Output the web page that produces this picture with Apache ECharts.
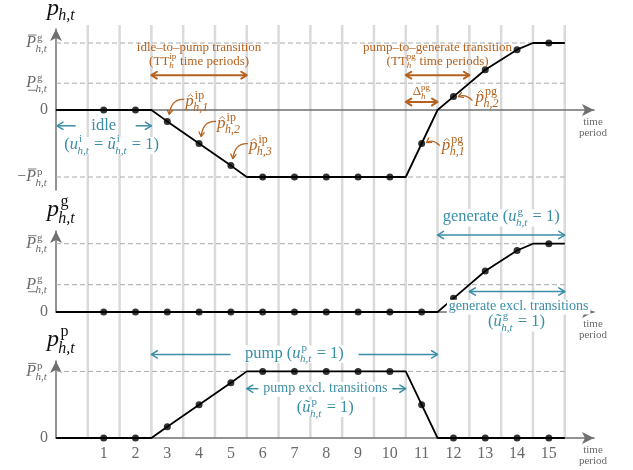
<!DOCTYPE html>
<html>
<head>
<meta charset="utf-8">
<script src="https://cdn.jsdelivr.net/npm/echarts@6/dist/echarts.min.js"></script>
<style>
  html, body { margin: 0; background: #fff; }
  #main { width: 633px; height: 470px; }
</style>
</head>
<body>
<div id="main"></div>
<script>
// time periods with a dot, and the period boundaries (grey vertical lines)
var periods = [1, 2, 3, 4, 5, 6, 7, 8, 9, 10, 11, 12, 13, 14, 15];
var boundaries = [0.5, 1.5, 2.5, 3.5, 4.5, 5.5, 6.5, 7.5, 8.5, 9.5, 10.5, 11.5, 12.5, 13.5, 14.5, 15.5];

// net power p_{h,t}: values at each period, plus the corners between periods
var netPower = [0, 0, -0.17, -0.5, -0.83, -1, -1, -1, -1, -1, -0.5, 0.2, 0.6, 0.9, 1];
var netCorners = [[-0.5, 0], [2.5, 0], [5.5, -1], [10.5, -1], [11.5, 0], [14.5, 1], [15.5, 1]];

// generating power p^g_{h,t}
var genPower = [0, 0, 0, 0, 0, 0, 0, 0, 0, 0, 0, 0.2, 0.6, 0.9, 1];
var genCorners = [[-0.5, 0], [11.5, 0], [14.5, 1], [15.5, 1]];

// pumping power p^p_{h,t}
var pumpPower = [0, 0, 0.17, 0.5, 0.83, 1, 1, 1, 1, 1, 0.5, 0, 0, 0, 0];
var pumpCorners = [[-0.5, 0], [2.5, 0], [5.5, 1], [10.5, 1], [11.5, 0], [15.5, 0]];

// limits (dashed lines)
var genMax = 1;
var genMin = 0.4;
var pumpMax = 1;

var ORANGE = '#b5621e';
var TEAL = '#3a8ea6';
var GREY = '#6a6a6a';
var SERIF = 'Liberation Serif';

function path(values, corners) {
  var pts = periods.map(function (t, i) { return [t, values[i]]; }).concat(corners);
  pts.sort(function (a, b) { return a[0] - b[0]; });
  return pts;
}
function dots(values) {
  return periods.map(function (t, i) { return [t, values[i]]; });
}

var chart = echarts.init(document.getElementById('main'));

var grids = [
  { left: 56, top: 29, width: 538, height: 161 },
  { left: 56, top: 231, width: 538, height: 81 },
  { left: 56, top: 361, width: 538, height: 77 },
  { left: 56, top: 25, width: 538, height: 413 }
];
var yRanges = [[-1.194, 1.209], [0, 1.186], [0, 1.156], [0, 1]];

var xAxes = grids.map(function (g, i) {
  return {
    gridIndex: i, type: 'value', min: -0.5, max: 16.42,
    splitLine: { show: false }, axisTick: { show: false },
    axisLine: {
      show: i < 3, onZero: true, symbol: ['none', 'arrow'], symbolSize: [9, 12],
      lineStyle: { color: '#707070', width: 1.5 }
    },
    axisLabel: {
      show: i === 2, customValues: periods, margin: 8,
      color: GREY, fontSize: 16, fontFamily: SERIF
    }
  };
});
var yAxes = grids.map(function (g, i) {
  return {
    gridIndex: i, type: 'value', min: yRanges[i][0], max: yRanges[i][1],
    splitLine: { show: false }, axisTick: { show: false }, axisLabel: { show: false },
    axisLine: {
      show: i < 3, onZero: false, symbol: ['none', 'arrow'], symbolSize: [9, 12],
      lineStyle: { color: '#707070', width: 1.5 }
    }
  };
});

function panel(i, values, corners, levels) {
  // dashed limit lines first, so they stay under the power curve
  var out = levels.map(function (v) {
    return {
      type: 'line', xAxisIndex: i, yAxisIndex: i, z: 1, silent: true, showSymbol: false,
      data: [[-0.5, v], [15.5, v]],
      lineStyle: { color: '#aaaaaa', width: 1, type: [5, 3] }
    };
  });
  return out.concat([
    {
      type: 'line', xAxisIndex: i, yAxisIndex: i, data: path(values, corners),
      showSymbol: false, z: 4, lineStyle: { color: '#000', width: 1.8 }
    },
    {
      type: 'scatter', xAxisIndex: i, yAxisIndex: i, data: dots(values),
      symbolSize: 7, z: 5, itemStyle: { color: '#000' }
    }
  ]);
}

var series = [{
  type: 'custom', xAxisIndex: 3, yAxisIndex: 3, z: 0, silent: true,
  data: boundaries.map(function (t) { return [t]; }),
  renderItem: function (params, api) {
    var top = api.coord([api.value(0), 1]);
    var bottom = api.coord([api.value(0), 0]);
    return {
      type: 'line',
      shape: { x1: top[0], y1: top[1], x2: bottom[0], y2: bottom[1] },
      style: { stroke: '#dadada', lineWidth: 2.5 }
    };
  }
}]
  .concat(panel(0, netPower, netCorners, [genMax, genMin, -pumpMax]))
  .concat(panel(1, genPower, genCorners, [genMax, genMin]))
  .concat(panel(2, pumpPower, pumpCorners, [pumpMax]));

chart.setOption({
  animation: false,
  grid: grids,
  xAxis: xAxes,
  yAxis: yAxes,
  series: series
});

// ---- little math typesetter for the annotations ----
var ctx2d = document.createElement('canvas').getContext('2d');
function measure(s, size, it) {
  ctx2d.font = (it ? 'italic ' : '') + size + 'px "' + SERIF + '"';
  return ctx2d.measureText(s).width;
}
function txt(s, x, y, size, it, color) {
  return {
    type: 'text', x: x, y: y, z: 101,
    style: {
      text: s, fontSize: size, fontFamily: SERIF, fontStyle: it ? 'italic' : 'normal',
      fill: color, verticalAlign: 'middle', align: 'left'
    }
  };
}
function seg(x1, y1, x2, y2, color, w) {
  return { type: 'line', z: 101, shape: { x1: x1, y1: y1, x2: x2, y2: y2 }, style: { stroke: color, lineWidth: w || 1 } };
}

function math(tokens, size, color, x, y, align, bg) {
  var kids = [], cx = 0, ss = Math.round(size * 0.68);
  tokens.forEach(function (tk) {
    if (typeof tk === 'string') tk = { b: tk };
    var w = measure(tk.b, size, tk.it);
    kids.push(txt(tk.b, cx, 0, size, tk.it, color));
    if (tk.bar) {
      var by = tk.bar === 'over' ? -0.5 * size : 0.44 * size;
      kids.push(seg(cx + w * 0.18, by, cx + w * 1.05, by, color, Math.max(0.8, size / 18)));
    }
    if (tk.hat) {
      var hx = cx + w * 0.6;
      kids.push({
        type: 'polyline', z: 101,
        shape: { points: [[hx - size * 0.15, -0.27 * size], [hx, -0.42 * size], [hx + size * 0.15, -0.27 * size]] },
        style: { stroke: color, fill: null, lineWidth: 0.9 }
      });
    }
    var sw = 0, kern = tk.it ? size * 0.06 : 0;
    if (tk.sup) {
      sw = measure(tk.sup, ss, tk.supIt);
      kids.push(txt(tk.sup, cx + w + kern, -0.33 * size, ss, tk.supIt, color));
    }
    if (tk.sub) {
      var subIt = tk.subIt !== false;
      sw = Math.max(sw, measure(tk.sub, ss, subIt));
      kids.push(txt(tk.sub, cx + w - kern * 0.5, (tk.sup ? 0.36 : 0.3) * size, ss, subIt, color));
    }
    cx += w + (sw ? sw + size * 0.04 : 0);
  });
  var off = align === 'center' ? -cx / 2 : (align === 'right' ? -cx : 0);
  var children = [{ type: 'group', x: off, children: kids }];
  if (bg) {
    children.unshift({
      type: 'rect', z: 100,
      shape: { x: off - 2, y: -0.48 * size, width: cx + 4, height: 1.05 * size },
      style: { fill: '#fff' }
    });
  }
  return { type: 'group', x: x, y: y, children: children };
}

function head(x, y, ang, color, len, w) {
  var a1 = ang + Math.PI - 0.55, a2 = ang + Math.PI + 0.55;
  return {
    type: 'polyline', z: 102,
    shape: { points: [[x + len * Math.cos(a1), y + len * Math.sin(a1)], [x, y], [x + len * Math.cos(a2), y + len * Math.sin(a2)]] },
    style: { stroke: color, fill: null, lineWidth: w, lineCap: 'round', lineJoin: 'round' }
  };
}
function hArrow(x1, x2, y, color, w, len, both) {
  var out = [seg(x1, y, x2, y, color, w), head(x2, y, x2 > x1 ? 0 : Math.PI, color, len, w)];
  if (both) out.push(head(x1, y, x2 > x1 ? Math.PI : 0, color, len, w));
  out.forEach(function (e) { e.z = 102; });
  return out;
}
function curved(x1, y1, cpx, cpy, x2, y2, color) {
  return [
    { type: 'bezierCurve', z: 102, shape: { x1: x1, y1: y1, cpx1: cpx, cpy1: cpy, x2: x2, y2: y2 }, style: { stroke: color, fill: null, lineWidth: 1.3 } },
    head(x2, y2, Math.atan2(y2 - cpy, x2 - cpx), color, 5, 1.3)
  ];
}

function P(g, t, v) { return chart.convertToPixel({ gridIndex: g }, [t, v]); }

var el = [];
function add(items) { el = el.concat(items); }

var axisX = P(0, -0.5, 0)[0];
var lblX = axisX - 8;

// axis names
var top0 = P(0, -0.5, yRanges[0][1]), top1 = P(1, -0.5, yRanges[1][1]), top2 = P(2, -0.5, yRanges[2][1]);
add(math([{ b: 'p', it: true, sub: 'h,t' }], 24, '#111', axisX - 9, top0[1] - 20, 'left'));
add(math([{ b: 'p', it: true, sup: 'g', sub: 'h,t' }], 24, '#111', axisX - 9, top1[1] - 21, 'left'));
add(math([{ b: 'p', it: true, sup: 'p', sub: 'h,t' }], 24, '#111', axisX - 9, top2[1] - 21, 'left'));

// y labels
var PgBar = [{ b: 'P', it: true, bar: 'over', sup: 'g', sub: 'h,t' }];
var PgLow = [{ b: 'P', it: true, bar: 'under', sup: 'g', sub: 'h,t' }];
var PpBar = [{ b: 'P', it: true, bar: 'over', sup: 'p', sub: 'h,t' }];
add(math(PgBar, 16, GREY, lblX, P(0, 0, genMax)[1], 'right'));
add(math(PgLow, 16, GREY, lblX, P(0, 0, genMin)[1], 'right'));
add(math(['0'], 16, GREY, lblX, P(0, 0, 0)[1], 'right'));
add(math([{ b: '\u2212' }].concat(PpBar), 16, GREY, lblX, P(0, 0, -pumpMax)[1], 'right'));
add(math(PgBar, 16, GREY, lblX, P(1, 0, genMax)[1], 'right'));
add(math(PgLow, 16, GREY, lblX, P(1, 0, genMin)[1], 'right'));
add(math(['0'], 16, GREY, lblX, P(1, 0, 0)[1], 'right'));
add(math(PpBar, 16, GREY, lblX, P(2, 0, pumpMax)[1], 'right'));
add(math(['0'], 16, GREY, lblX, P(2, 0, 0)[1], 'right'));

// "time period" captions at the arrow tips
[0, 1, 2].forEach(function (g) {
  var e = P(g, 16.42, 0);
  add(math(['time'], 11, GREY, e[0] - 1, e[1] + 12.5, 'center'));
  add(math(['period'], 11, GREY, e[0] - 1, e[1] + 23.5, 'center'));
});

// top panel: transitions
var c = P(0, 4, 0.93);
add(math(['idle\u2013to\u2013pump transition'], 13, ORANGE, c[0], c[1], 'center'));
c = P(0, 4, 0.73);
add(math([{ b: '(TT', sup: 'ip', sub: 'h' }, ' time periods)'], 13, ORANGE, c[0], c[1], 'center'));
add(hArrow(P(0, 2.5, 0)[0], P(0, 5.5, 0)[0], P(0, 0, 0.52)[1], ORANGE, 2, 6.5, true));

c = P(0, 11.5, 0.93);
add(math(['pump\u2013to\u2013generate transition'], 13, ORANGE, c[0], c[1], 'center'));
c = P(0, 11.5, 0.73);
add(math([{ b: '(TT', sup: 'pg', sub: 'h' }, ' time periods)'], 13, ORANGE, c[0], c[1], 'center'));
add(hArrow(P(0, 10.5, 0)[0], P(0, 12.5, 0)[0], P(0, 0, 0.52)[1], ORANGE, 2, 6.5, true));

c = P(0, 11, 0.27);
add(math([{ b: '\u0394', sup: 'pg', sub: 'h' }], 13, ORANGE, c[0], c[1], 'center'));
add(hArrow(P(0, 10.5, 0)[0], P(0, 11.5, 0)[0], P(0, 0, 0.12)[1], ORANGE, 2, 6.5, true));

// idle-to-pump points
[1, 2, 3].forEach(function (k) {
  var d = P(0, 2 + k, netPower[1 + k]);
  add(math([{ b: 'p', it: true, hat: true, sup: 'ip', sub: 'h,' + k }], 17, ORANGE, d[0] + 18, d[1] - 20, 'left'));
  add(curved(d[0] + 17, d[1] - 22, d[0] + 4, d[1] - 23, d[0] + 2, d[1] - 7, ORANGE));
});
// pump-to-generate points
var d1 = P(0, 11, netPower[10]);
add(math([{ b: 'p', it: true, hat: true, sup: 'pg', sub: 'h,1' }], 17, ORANGE, d1[0] + 20, d1[1] + 2, 'left'));
add(curved(d1[0] + 18, d1[1] + 2, d1[0] + 11, d1[1] - 5, d1[0] + 5, d1[1] - 1, ORANGE));
var d2 = P(0, 12, netPower[11]);
add(math([{ b: 'p', it: true, hat: true, sup: 'pg', sub: 'h,2' }], 17, ORANGE, d2[0] + 22, d2[1] + 1, 'left'));
add(curved(d2[0] + 19, d2[1] + 4, d2[0] + 12, d2[1] - 3, d2[0] + 5, d2[1], ORANGE));

// idle
c = P(0, 1, -0.236);
add(math(['idle'], 16.5, TEAL, c[0], c[1], 'center', true));
add(hArrow(c[0] - 28, axisX + 1, c[1], TEAL, 1.5, 7, false));
add(hArrow(c[0] + 32, P(0, 2.5, 0)[0], c[1], TEAL, 1.5, 7, false));
c = P(0, 1.25, -0.52);
add(math(['(', { b: 'u', it: true, sup: 'i', sub: 'h,t' }, ' = ', { b: '\u0169', it: true, sup: 'i', sub: 'h,t' }, ' = 1)'], 16.5, TEAL, c[0], c[1], 'center', true));

// generate panel
c = P(1, 13.5, 1.39);
add(math(['generate (', { b: 'u', it: true, sup: 'g', sub: 'h,t' }, ' = 1)'], 16.5, TEAL, c[0], c[1], 'center', true));
add(hArrow(P(1, 11.5, 0)[0], P(1, 15.5, 0)[0], P(1, 0, 1.127)[1], TEAL, 1.5, 7, true));
add(hArrow(P(1, 12.5, 0)[0], P(1, 15.5, 0)[0], P(1, 0, 0.3)[1], TEAL, 1.5, 7, true));
c = P(1, 14.05, 0.08);
add(math(['generate excl. transitions'], 14, TEAL, c[0], c[1], 'center', true));
c = P(1, 13.98, -0.146);
add(math(['(', { b: '\u0169', it: true, sup: 'g', sub: 'h,t' }, ' = 1)'], 16.5, TEAL, c[0], c[1], 'center', true));

// pump panel
c = P(2, 7, 1.27);
add(math(['pump (', { b: 'u', it: true, sup: 'p', sub: 'h,t' }, ' = 1)'], 16.5, TEAL, c[0], c[1], 'center', true));
add(hArrow(c[0] - 64, P(2, 2.5, 0)[0], c[1] + 1, TEAL, 1.5, 7, false));
add(hArrow(c[0] + 64, P(2, 11.5, 0)[0], c[1] + 1, TEAL, 1.5, 7, false));
c = P(2, 7.97, 0.74);
add(math(['pump excl. transitions'], 14, TEAL, c[0], c[1], 'center', true));
add(hArrow(c[0] - 67, P(2, 5.5, 0)[0], c[1], TEAL, 1.5, 7, false));
add(hArrow(c[0] + 67, P(2, 10.5, 0)[0], c[1], TEAL, 1.5, 7, false));
c = P(2, 7.97, 0.455);
add(math(['(', { b: '\u0169', it: true, sup: 'p', sub: 'h,t' }, ' = 1)'], 16.5, TEAL, c[0], c[1], 'center', true));

chart.setOption({ graphic: { elements: el } });
</script>
</body>
</html>
